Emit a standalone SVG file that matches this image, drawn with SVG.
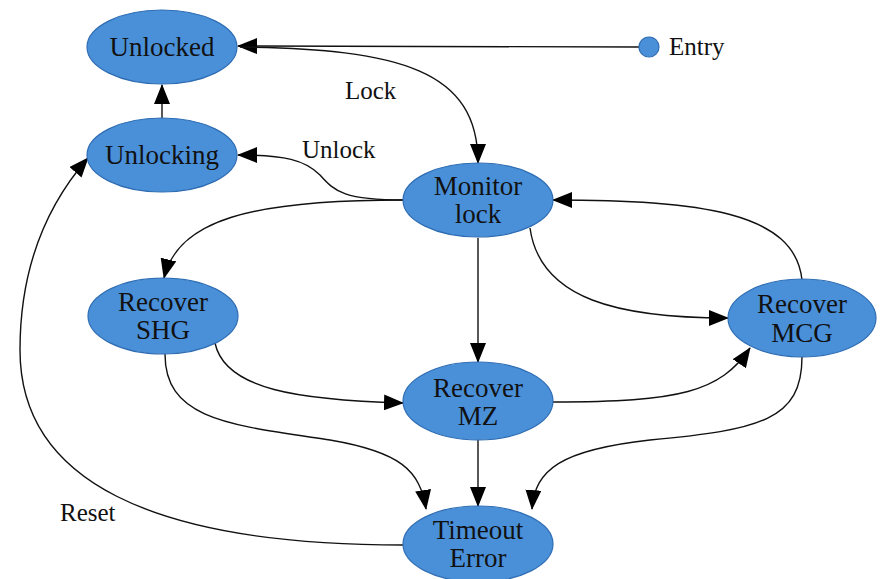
<svg xmlns="http://www.w3.org/2000/svg" width="886" height="579" viewBox="0 0 886 579" font-family="'Liberation Serif', 'DejaVu Serif', 'Times New Roman', serif">
<style>
.node ellipse, .node circle { fill: #4a90d9; stroke: #2f6db3; stroke-width: 1.2; }
text { font-family: 'Liberation Serif', 'DejaVu Serif', 'Times New Roman', serif; font-size: 27px; fill: #111; }
.nt { text-anchor: middle; }
.lbl { font-size: 25px; }
.edge { fill: none; stroke: #111; stroke-width: 1.4; marker-end: url(#arr); }
</style>
<defs>
<marker id="arr" markerUnits="userSpaceOnUse" markerWidth="20" markerHeight="16" refX="19" refY="8" orient="auto">
<path d="M0,0 L20,8 L0,16 Z" fill="#000"/>
</marker>
</defs>
<rect width="886" height="579" fill="#fff"/>
<g id="connectors">
<path class="edge" d="M639,47 L238,46"/>
<path class="edge" d="M240,47 C400,49 478,70 478,163"/>
<path class="edge" d="M404,200 C345,200 335,192 320,175 C305,160 285,155 238,155"/>
<path class="edge" d="M162,118 L162,85"/>
<path class="edge" d="M404,200 C250,200 178,220 164,278"/>
<path class="edge" d="M478,238 L478,362"/>
<path class="edge" d="M530,228 C540,300 620,318 728,318"/>
<path class="edge" d="M802,280 C795,212 700,200 553,200"/>
<path class="edge" d="M215,343 C225,390 300,400 403,403"/>
<path class="edge" d="M553,402 C680,402 720,392 750,348"/>
<path class="edge" d="M165,354 C165,420 230,425 330,440 C400,452 420,470 426,509"/>
<path class="edge" d="M478,440 L478,506"/>
<path class="edge" d="M802,357 C802,420 760,430 650,440 C560,450 535,470 532,509"/>
<path class="edge" d="M403,545 C150,545 20,480 20,350 C20,250 60,190 88,158"/>
</g>
<g id="labels">
<text class="lbl" x="345" y="99">Lock</text>
<text class="lbl" x="302" y="158">Unlock</text>
<text class="lbl" x="60" y="521">Reset</text>
</g>
<g id="entry" class="node">
<circle cx="649" cy="47" r="10"/>
<text x="669" y="55" class="lbl">Entry</text>
</g>
<g id="unlocked" class="node">
<ellipse cx="162" cy="47" rx="75" ry="37"/>
<text class="nt" x="162" y="56">Unlocked</text>
</g>
<g id="unlocking" class="node">
<ellipse cx="162" cy="155" rx="75" ry="37"/>
<text class="nt" x="162" y="164">Unlocking</text>
</g>
<g id="monitor" class="node">
<ellipse cx="478" cy="200" rx="75" ry="37"/>
<text class="nt" x="478" y="195">Monitor</text>
<text class="nt" x="478" y="223">lock</text>
</g>
<g id="shg" class="node">
<ellipse cx="163" cy="316" rx="75" ry="38"/>
<text class="nt" x="163" y="311">Recover</text>
<text class="nt" x="163" y="339">SHG</text>
</g>
<g id="mcg" class="node">
<ellipse cx="802" cy="318" rx="74" ry="39"/>
<text class="nt" x="802" y="313">Recover</text>
<text class="nt" x="802" y="342">MCG</text>
</g>
<g id="mz" class="node">
<ellipse cx="478" cy="401" rx="75" ry="39"/>
<text class="nt" x="478" y="397">Recover</text>
<text class="nt" x="478" y="425">MZ</text>
</g>
<g id="timeout" class="node">
<ellipse cx="478" cy="544" rx="75" ry="38"/>
<text class="nt" x="478" y="539">Timeout</text>
<text class="nt" x="478" y="567">Error</text>
</g>
</svg>
